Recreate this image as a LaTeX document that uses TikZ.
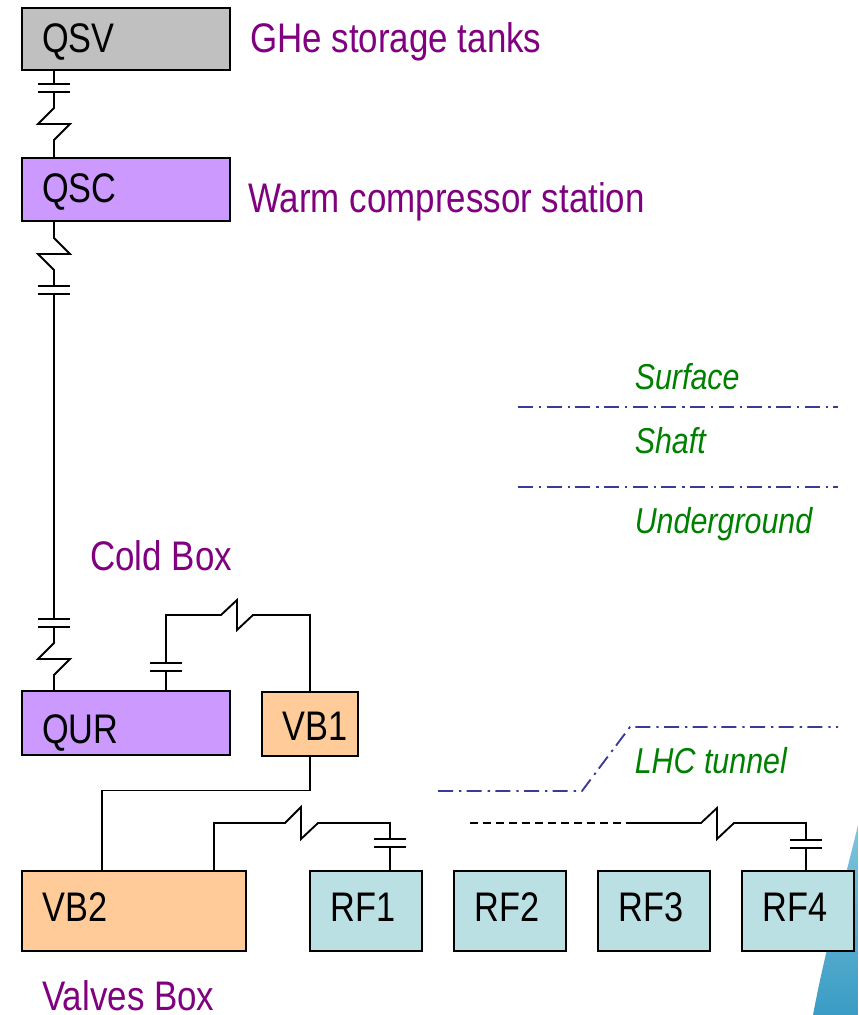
\documentclass[tikz,border=0pt]{standalone}
\usepackage{fontspec}
\setmainfont{Liberation Sans}
\newfontfamily\narrowfont[FakeStretch=0.83]{Liberation Sans}
\newfontfamily\titlefont[FakeStretch=0.845]{Liberation Sans}
\definecolor{greybox}{HTML}{C0C0C0}
\definecolor{violetbox}{HTML}{CC99FF}
\definecolor{orangebox}{HTML}{FFCC99}
\definecolor{tealbox}{HTML}{BBE0E3}
\definecolor{purpletext}{HTML}{800080}
\definecolor{greentext}{HTML}{008000}
\definecolor{bluedash}{HTML}{3A3A9C}
\definecolor{cornerblue}{HTML}{3A9CC4}
\definecolor{cornerpale}{HTML}{7FC4DE}
\tikzset{
  x=0.75pt,y=-0.75pt,
  unit box/.style={draw=black,line width=1.6pt,inner sep=0pt,outer sep=0pt,anchor=north west,text=black},
  box label/.style={anchor=base west,inner sep=0pt,text=black,font=\narrowfont\fontsize{31}{34}\selectfont},
  title/.style={anchor=base west,inner sep=0pt,text=purpletext,font=\titlefont\fontsize{31}{34}\selectfont},
  zone/.style={anchor=base west,inner sep=0pt,text=greentext,font=\titlefont\itshape\fontsize{27}{30}\selectfont},
  wire/.style={draw=black,line width=1.4pt,line join=miter},
  plate/.style={draw=black,line width=1.3pt},
  level/.style={draw=bluedash,line width=1.4pt,dash pattern=on 11.25pt off 4.5pt on 1.8pt off 3.95pt},
}
\begin{document}
\begin{tikzpicture}
\useasboundingbox (0,0) rectangle (858,1015);
% background corner
\shade[top color=cornerpale,bottom color=cornerblue] (858,825) .. controls (845,880) and (825,950) .. (813,1015) -- (858,1015) -- cycle;
% boxes
\node[unit box,fill=greybox,minimum width=156pt,minimum height=46.5pt] (qsv) at (22,8) {};
\node[unit box,fill=violetbox,minimum width=156pt,minimum height=47.25pt] (qsc) at (22,158) {};
\node[unit box,fill=violetbox,minimum width=156pt,minimum height=48pt] (qur) at (22,691) {};
\node[unit box,fill=orangebox,minimum width=72pt,minimum height=48pt] (vb1) at (262,692) {};
\node[unit box,fill=orangebox,minimum width=168pt,minimum height=60pt] (vb2) at (22,871) {};
\node[unit box,fill=tealbox,minimum width=84pt,minimum height=60pt] (rf1) at (310,871) {};
\node[unit box,fill=tealbox,minimum width=84pt,minimum height=60pt] (rf2) at (454,871) {};
\node[unit box,fill=tealbox,minimum width=84pt,minimum height=60pt] (rf3) at (598,871) {};
\node[unit box,fill=tealbox,minimum width=84pt,minimum height=60pt] (rf4) at (742,871) {};
% box labels
\node[box label] (lqsv) at (42,52) {QSV};
\node[box label] (lqsc) at (42,202) {QSC};
\node[box label] (lqur) at (42,743) {QUR};
\node[box label] (lvb1) at (282,740) {VB1};
\node[box label] (lvb2) at (42,921) {VB2};
\node[box label] (lrf1) at (330,921) {RF1};
\node[box label] (lrf2) at (474,921) {RF2};
\node[box label] (lrf3) at (618,921) {RF3};
\node[box label] (lrf4) at (762,921) {RF4};
% titles
\node[title] (t1) at (250,52) {GHe storage tanks};
\node[title] (t2) at (248,212) {Warm compressor station};
\node[title] (t3) at (90,570) {Cold Box};
\node[title] (t4) at (42,1010) {Valves Box};
% zones
\node[zone] (z1) at (634.5,389) {Surface};
\node[zone] (z2) at (634.5,453) {Shaft};
\node[zone] (z3) at (634.5,533) {Underground};
\node[zone] (z4) at (634.5,773) {LHC tunnel};
% level lines
\coordinate (a1) at (518,407); \coordinate (a2) at (838,407);
\coordinate (b1) at (518,487); \coordinate (b2) at (838,487);
\coordinate (c1) at (438,791); \coordinate (c2) at (582,791);
\coordinate (c3) at (630,727); \coordinate (c4) at (838,727);
\draw[level] (a1) -- (a2);
\draw[level] (b1) -- (b2);
\draw[level] (c1) -- (c2) -- (c3) -- (c4);
% QSV - QSC
\draw[wire] (54,71) -- (54,84);
\draw[plate] (38,84) -- (70,84) (38,92) -- (70,92);
\draw[wire] (54,92) -- (54,108) -- (38,124) -- (70,124) -- (54,140) -- (54,158);
% QSC - QUR
\draw[wire] (54,222) -- (54,238) -- (70,254) -- (38,254) -- (54,270) -- (54,286);
\draw[plate] (38,286) -- (70,286) (38,294) -- (70,294);
\draw[wire] (54,294) -- (54,619);
\draw[plate] (38,619) -- (70,619) (38,627) -- (70,627);
\draw[wire] (54,627) -- (54,643) -- (38,659) -- (70,659) -- (54,675) -- (54,691);
% QUR - VB1
\draw[wire] (166,691) -- (166,671);
\draw[plate] (150,671) -- (182,671) (150,663) -- (182,663);
\draw[wire] (166,663) -- (166,615) -- (221,615) -- (237,600) -- (237,630) -- (253,615) -- (310,615) -- (310,692);
% VB1 - VB2
\draw[wire] (310,756) -- (310,790.5) -- (102,790.5) -- (102,871);
% VB2 - RF1
\draw[wire] (214,871) -- (214,823) -- (285,823) -- (301,807) -- (301,839) -- (318,823) -- (390,823) -- (390,839);
\draw[plate] (374,839) -- (406,839) (374,847) -- (406,847);
\draw[wire] (390,847) -- (390,871);
% RF4 line
\draw[wire,dash pattern=on 6pt off 3.75pt] (470,823) -- (630,823);
\draw[wire] (630,823) -- (701,823) -- (717,808) -- (717,839) -- (734,823) -- (806,823) -- (806,840);
\draw[plate] (790,840) -- (822,840) (790,848) -- (822,848);
\draw[wire] (806,848) -- (806,871);
\end{tikzpicture}
\end{document}
